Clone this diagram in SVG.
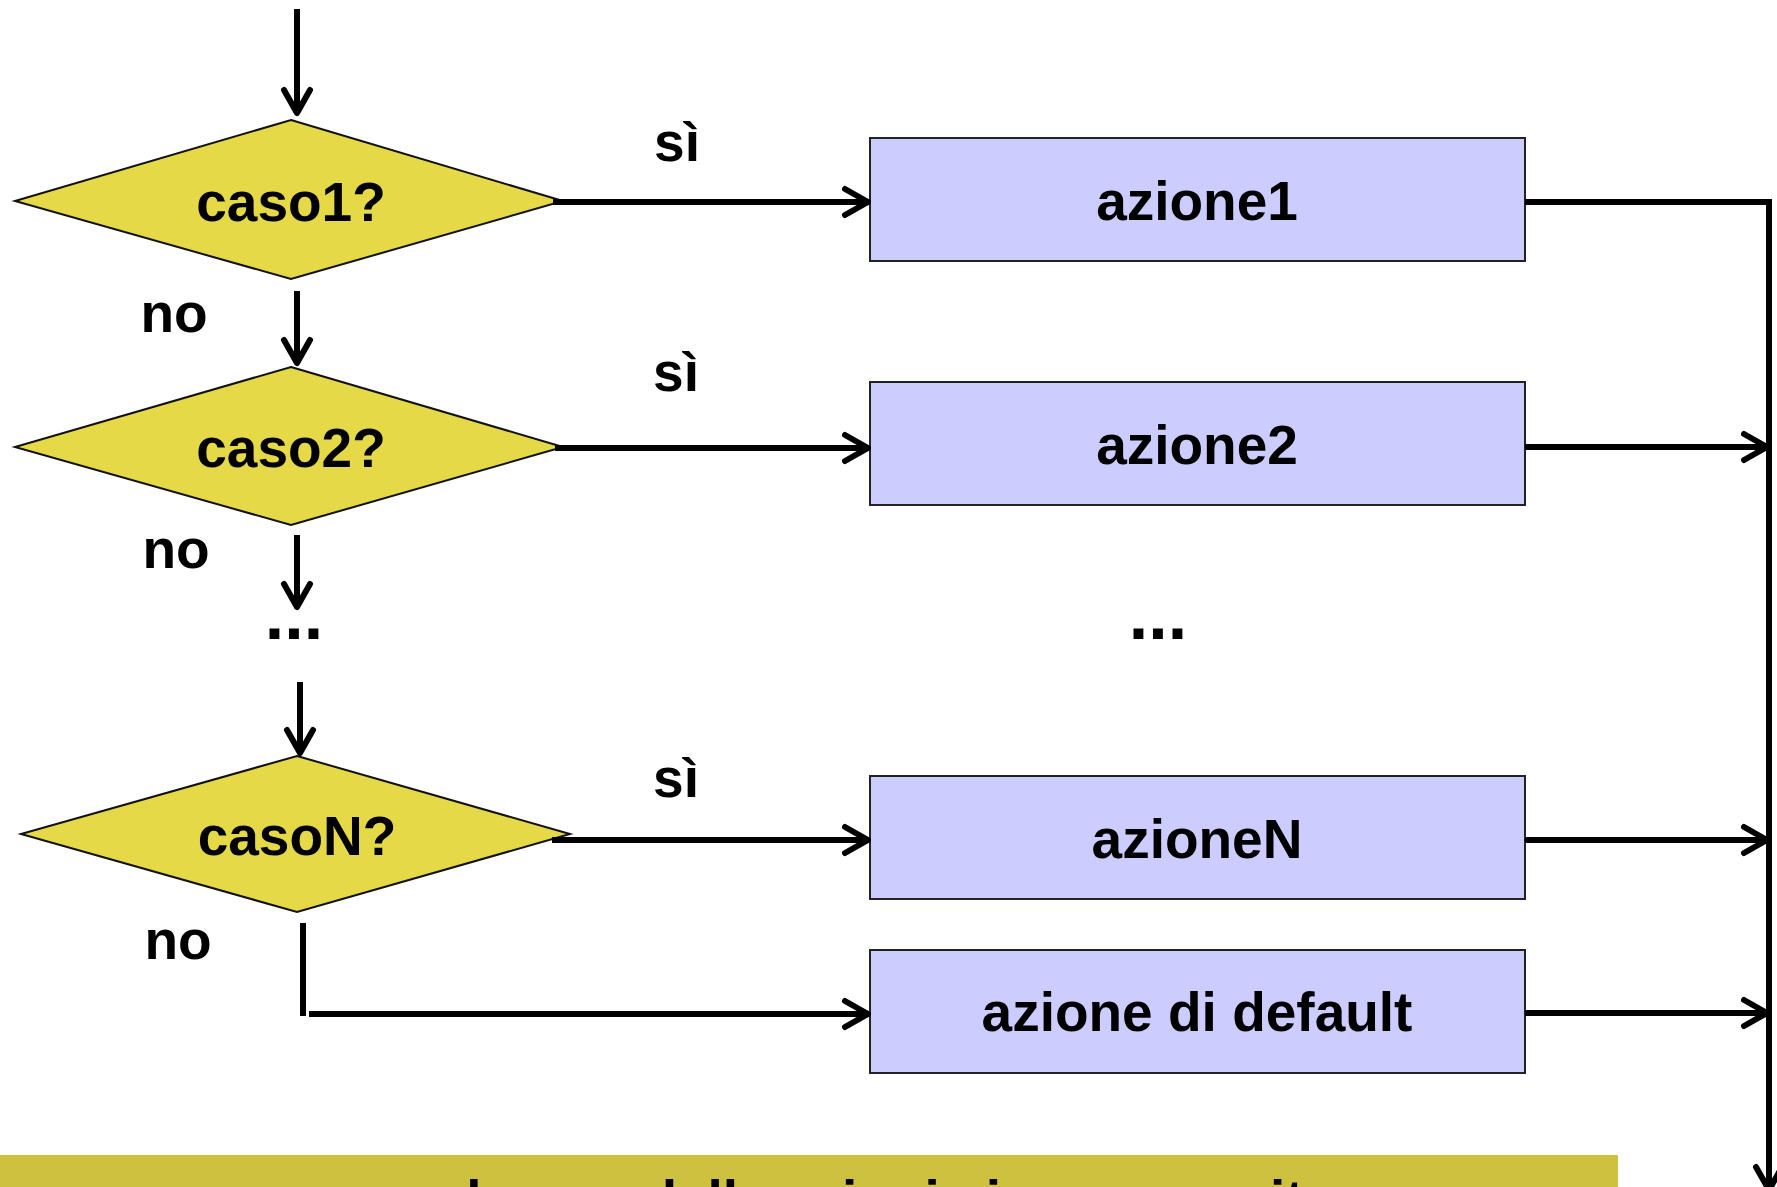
<svg xmlns="http://www.w3.org/2000/svg" width="1777" height="1187" viewBox="0 0 1777 1187">
  <defs>
    <marker id="arrow" markerUnits="userSpaceOnUse" markerWidth="40" markerHeight="40" viewBox="-30 -20 40 40" refX="0" refY="0" orient="auto" overflow="visible">
      <path d="M-23,-13 L0,0 L-23,13" fill="none" stroke="#000" stroke-width="6" stroke-linecap="round" stroke-linejoin="round"/>
    </marker>
    <style>
      .decision { fill: #E6D947; stroke: #111; stroke-width: 2; }
      .action { fill: #CCCCFF; stroke: #222; stroke-width: 2; }
      .label { font-family: "Liberation Sans", Arial, sans-serif; font-weight: bold; font-size: 55px; fill: #000; text-anchor: middle; }
      .edge { fill: none; stroke: #000; stroke-width: 6; }
      .arrowed { marker-end: url(#arrow); }
      .dots { font-family: "Liberation Sans", Arial, sans-serif; font-weight: bold; font-size: 70px; fill: #000; text-anchor: middle; }
    </style>
  </defs>

  <rect width="1777" height="1187" fill="#fff"/>

  <!-- decision nodes -->
  <g id="caso1">
    <polygon class="decision" points="291,120 563,201 291,279 15,201"/>
    <text class="label" x="291" y="221">caso1?</text>
  </g>
  <g id="caso2">
    <polygon class="decision" points="291,367 563,447 291,525 15,447"/>
    <text class="label" x="291" y="467">caso2?</text>
  </g>
  <g id="casoN">
    <polygon class="decision" points="297,756 570,834 297,912 21,834"/>
    <text class="label" x="297" y="855">casoN?</text>
  </g>

  <!-- action nodes -->
  <g id="azione1">
    <rect class="action" x="870" y="138" width="655" height="123"/>
    <text class="label" x="1197" y="220">azione1</text>
  </g>
  <g id="azione2">
    <rect class="action" x="870" y="382" width="655" height="123"/>
    <text class="label" x="1197" y="464">azione2</text>
  </g>
  <g id="azioneN">
    <rect class="action" x="870" y="776" width="655" height="123"/>
    <text class="label" x="1197" y="858">azioneN</text>
  </g>
  <g id="azione-default">
    <rect class="action" x="870" y="950" width="655" height="123"/>
    <text class="label" x="1197" y="1031">azione di default</text>
  </g>

  <!-- ellipses marking omitted cases -->
  <g id="omessi">
    <text class="dots" x="294" y="639">...</text>
    <text class="dots" x="1158" y="639">...</text>
  </g>

  <!-- connectors -->
  <g id="connectors">
    <line class="edge arrowed" x1="297" y1="9" x2="297" y2="113"/>
    <line class="edge arrowed" x1="297" y1="291" x2="297" y2="363"/>
    <line class="edge arrowed" x1="297" y1="535" x2="297" y2="607"/>
    <line class="edge arrowed" x1="300" y1="682" x2="300" y2="753"/>

    <line class="edge arrowed" x1="553" y1="202" x2="868" y2="202"/>
    <line class="edge arrowed" x1="555" y1="448" x2="868" y2="448"/>
    <line class="edge arrowed" x1="552" y1="840" x2="868" y2="840"/>

    <line class="edge" x1="303" y1="923" x2="303" y2="1016" stroke-width="6"/>
    <line class="edge arrowed" x1="309" y1="1014" x2="868" y2="1014"/>

    <polyline class="edge arrowed" points="1525,202 1769,202 1769,1190" stroke-linejoin="miter"/>
    <line class="edge arrowed" x1="1525" y1="447" x2="1767" y2="447"/>
    <line class="edge arrowed" x1="1525" y1="840" x2="1767" y2="840"/>
    <line class="edge arrowed" x1="1525" y1="1013" x2="1767" y2="1013"/>

    <!-- branch labels -->
    <text class="label" x="677" y="161">sì</text>
    <text class="label" x="676" y="391">sì</text>
    <text class="label" x="676" y="797">sì</text>
    <text class="label" x="174" y="332">no</text>
    <text class="label" x="176" y="568">no</text>
    <text class="label" x="178" y="959">no</text>
  </g>

  <!-- caption bar, its text running past the lower edge -->
  <g id="caption">
    <rect x="0" y="1155" width="1618" height="40" fill="#CEC140"/>
    <text x="402" y="1219" font-family="Liberation Sans, Arial, sans-serif" font-weight="bold" font-size="55">solo una delle azioni viene eseguita</text>
  </g>
</svg>
